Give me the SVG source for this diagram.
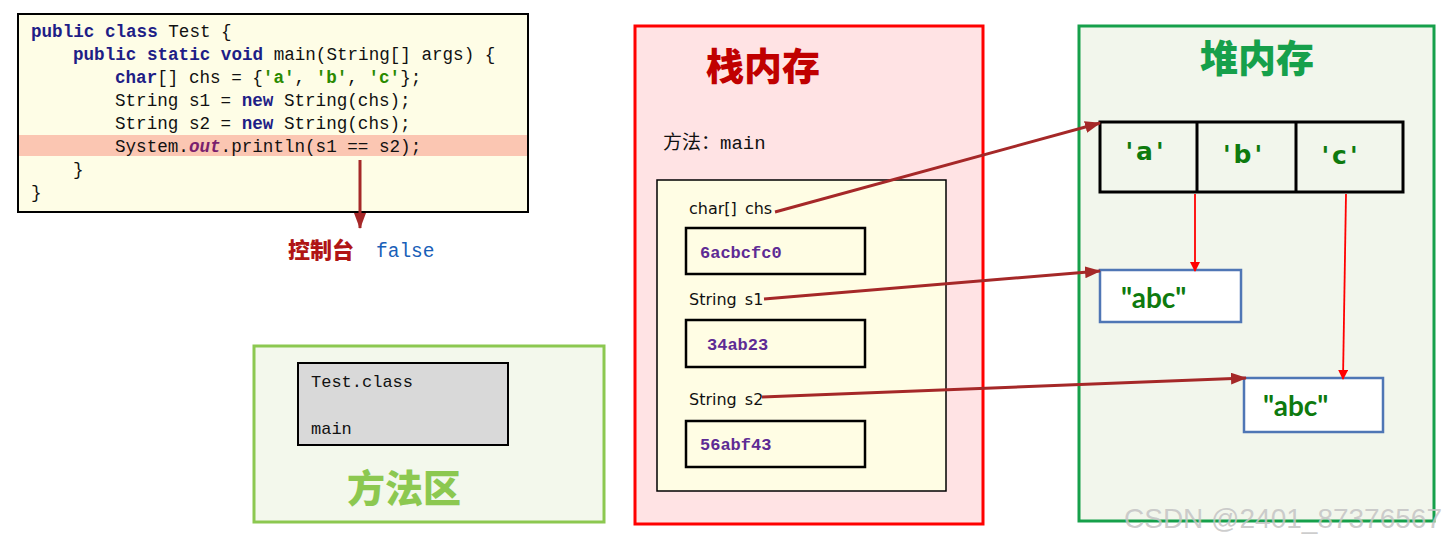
<svg xmlns="http://www.w3.org/2000/svg" width="1452" height="548" viewBox="0 0 1452 548">
<style>
.code{font-family:"Liberation Mono","DejaVu Sans Mono",monospace;font-size:17.6px;fill:#111;white-space:pre}
.kw{font-weight:bold;fill:#1E1E86}
.ch{font-weight:bold;fill:#2A8A00}
.fld{font-weight:bold;font-style:italic;fill:#7A1F6E}
.lbl{font-family:"DejaVu Sans","Noto Sans",sans-serif;font-size:16px;fill:#111;word-spacing:3px}
.hex{font-family:"Liberation Mono","DejaVu Sans Mono",monospace;font-size:17px;font-weight:bold;fill:#5E2B94}
.cell{font-family:"DejaVu Sans",sans-serif;font-size:25px;font-weight:bold;fill:#0E7A0E;text-anchor:middle;letter-spacing:3px}
.str{font-family:Lato,"Liberation Sans",sans-serif;font-size:28px;font-weight:bold;fill:#0E7A0E}
.title{font-family:"Noto Sans CJK SC","Noto Sans",sans-serif;font-size:38px;font-weight:900}
.vbox{fill:#FFFDE4;stroke:#000;stroke-width:2.5}
.dr{stroke:#A52828;stroke-width:3;fill:none}
.rd{stroke:#FF0000;stroke-width:1.8;fill:none}
</style>
<defs>
<marker id="ahDR" markerUnits="userSpaceOnUse" markerWidth="16" markerHeight="12" refX="15" refY="6" orient="auto">
<path d="M0,0 L16,6 L0,12 Z" fill="#A52828"/>
</marker>
<marker id="ahR" markerUnits="userSpaceOnUse" markerWidth="10" markerHeight="10" refX="9" refY="5" orient="auto">
<path d="M0,0 L10,5 L0,10 Z" fill="#FF0000"/>
</marker>
</defs>
<rect width="1452" height="548" fill="#FFFFFF"/>

<g id="code">
<rect x="18" y="14" width="510" height="198" fill="#FEFDE6" stroke="#000" stroke-width="2"/>
<rect x="19" y="135" width="508" height="21" fill="#FBC6B2"/>
<text class="code" x="31" y="37"><tspan class="kw">public</tspan> <tspan class="kw">class</tspan> Test {</text>
<text class="code" x="73" y="60"><tspan class="kw">public</tspan> <tspan class="kw">static</tspan> <tspan class="kw">void</tspan> main(String[] args) {</text>
<text class="code" x="115" y="83"><tspan class="kw">char</tspan>[] chs = {<tspan class="ch">'a'</tspan>, <tspan class="ch">'b'</tspan>, <tspan class="ch">'c'</tspan>};</text>
<text class="code" x="115" y="106">String s1 = <tspan class="kw">new</tspan> String(chs);</text>
<text class="code" x="115" y="129">String s2 = <tspan class="kw">new</tspan> String(chs);</text>
<text class="code" x="115" y="152">System.<tspan class="fld">out</tspan>.println(s1 == s2);</text>
<text class="code" x="73" y="175">}</text>
<text class="code" x="31" y="198">}</text>
</g>

<g id="console">
<text x="288" y="258" font-family="Noto Sans CJK SC,sans-serif" font-size="22" font-weight="900" fill="#B01515">控制台</text>
<text x="376" y="257" font-family="Liberation Mono,monospace" font-size="19.5" fill="#1860B8">false</text>
</g>

<g id="method-area">
<rect x="254" y="346" width="350" height="176" fill="#F3F8EC" stroke="#8CC850" stroke-width="3"/>
<rect x="298" y="363" width="210" height="82" fill="#D9D9D9" stroke="#000" stroke-width="2"/>
<text x="311" y="387" font-family="Liberation Mono,monospace" font-size="17" fill="#111">Test.class</text>
<text x="311" y="434" font-family="Liberation Mono,monospace" font-size="17" fill="#111">main</text>
<text class="title" x="347" y="502" fill="#8CC850" font-size="37">方法区</text>
</g>

<g id="stack">
<rect x="635" y="26" width="348" height="498" fill="#FFE3E4" stroke="#FF0000" stroke-width="3"/>
<text class="title" x="706" y="80" fill="#C00000">栈内存</text>
<text x="663" y="149" font-family="Liberation Mono,Noto Sans CJK SC,monospace" font-size="19" fill="#111">方法：main</text>
<rect x="657" y="180" width="289" height="311" fill="#FFFDE4" stroke="#000" stroke-width="1.5"/>
</g>

<g id="var-chs">
<text class="lbl" x="689" y="214">char[] chs</text>
<rect class="vbox" x="686" y="228" width="179" height="46"/>
<text class="hex" x="700" y="258">6acbcfc0</text>
</g>
<g id="var-s1">
<text class="lbl" x="689" y="305">String s1</text>
<rect class="vbox" x="686" y="320" width="179" height="47"/>
<text class="hex" x="707" y="350">34ab23</text>
</g>
<g id="var-s2">
<text class="lbl" x="689" y="405">String s2</text>
<rect class="vbox" x="686" y="421" width="179" height="46"/>
<text class="hex" x="700" y="450">56abf43</text>
</g>

<g id="heap">
<rect x="1079" y="26" width="355" height="495" fill="#F2F6EC" stroke="#16A04B" stroke-width="3"/>
<text class="title" x="1200" y="72" fill="#16A04B">堆内存</text>
</g>

<g id="char-array">
<rect x="1100" y="122" width="303" height="70" fill="#F2F6EC" stroke="#000" stroke-width="3"/>
<line x1="1197" y1="122" x2="1197" y2="192" stroke="#000" stroke-width="3"/>
<line x1="1296" y1="122" x2="1296" y2="192" stroke="#000" stroke-width="3"/>
<text class="cell" x="1146" y="160">'a'</text>
<text class="cell" x="1244" y="163">'b'</text>
<text class="cell" x="1341" y="164">'c'</text>
</g>

<g id="str1">
<rect x="1100" y="270" width="141" height="52" fill="#FFFFFF" stroke="#4F76B5" stroke-width="2.5"/>
<text class="str" x="1121" y="308">"abc"</text>
</g>
<g id="str2">
<rect x="1244" y="378" width="139" height="54" fill="#FFFFFF" stroke="#4F76B5" stroke-width="2.5"/>
<text class="str" x="1263" y="416">"abc"</text>
</g>

<g id="connectors">
<line class="dr" x1="360" y1="160" x2="360" y2="228" marker-end="url(#ahDR)"/>
<line class="dr" x1="775" y1="212" x2="1100" y2="123" marker-end="url(#ahDR)"/>
<line class="dr" x1="764" y1="299" x2="1100" y2="271" marker-end="url(#ahDR)"/>
<line class="dr" x1="762" y1="397" x2="1246" y2="378" marker-end="url(#ahDR)"/>
<line class="rd" x1="1195" y1="194" x2="1195" y2="271" marker-end="url(#ahR)"/>
<line class="rd" x1="1346" y1="194" x2="1343" y2="379" marker-end="url(#ahR)"/>
</g>

<text x="1124" y="528" font-family="Liberation Sans,Arial,sans-serif" font-size="28" fill="#C4C4C4" fill-opacity="0.85">CSDN @2401_87376567</text>
</svg>
